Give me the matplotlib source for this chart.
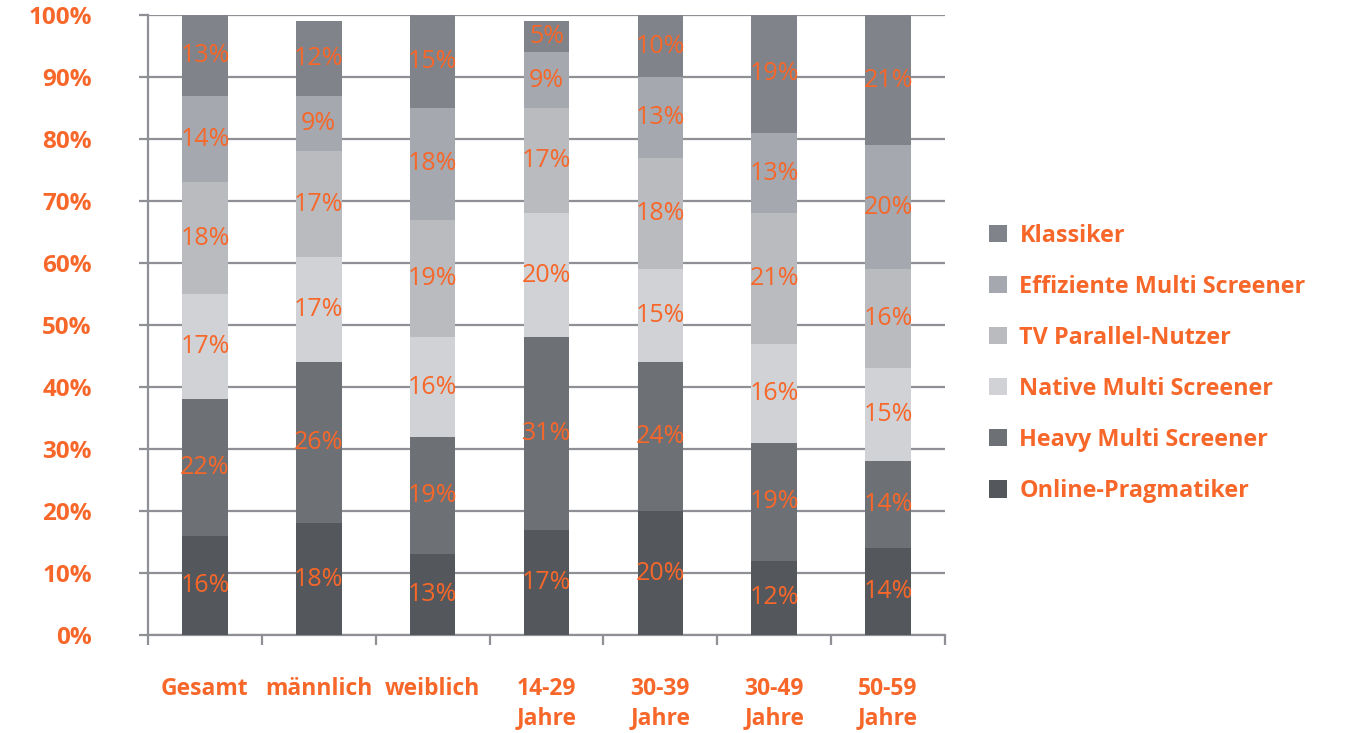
import matplotlib
matplotlib.use("Agg")
import matplotlib.pyplot as plt
import numpy as np

categories = ["Gesamt", "männlich", "weiblich", "14-29\nJahre", "30-39\nJahre", "30-49\nJahre", "50-59\nJahre"]
series_names = ["Online-Pragmatiker", "Heavy Multi Screener", "Native Multi Screener",
                "TV Parallel-Nutzer", "Effiziente Multi Screener", "Klassiker"]
online = [16, 18, 13, 17, 20, 12, 14]
heavy = [22, 26, 19, 31, 24, 19, 14]
native = [17, 17, 16, 20, 15, 16, 15]
tv_parallel = [18, 17, 19, 17, 18, 21, 16]
effizient = [14, 9, 18, 9, 13, 13, 20]
klassiker = [13, 12, 15, 5, 10, 19, 21]
yticks = [0, 10, 20, 30, 40, 50, 60, 70, 80, 90, 100]

series = [online, heavy, native, tv_parallel, effizient, klassiker]
colors = ["#54575c", "#6d7075", "#d0d2d5", "#b9bbbf", "#a5a8ae", "#808389"]
orange = "#f7672a"
grid_gray = "#8e9095"
font = "Open Sans"

fig = plt.figure(figsize=(13.49, 7.33), dpi=100)
ax = fig.add_axes([0.1097, 0.1337, 0.5908, 0.8458])

x = np.arange(len(categories))
bottom = np.zeros(len(categories))
handles = []
for name, vals, col in zip(series_names, series, colors):
    vals = np.array(vals, dtype=float)
    bars = ax.bar(x, vals, width=0.4, bottom=bottom, color=col, label=name, zorder=3)
    handles.append(bars)
    for xi, b, v in zip(x, bottom, vals):
        ax.text(xi, b + v / 2, f"{int(v)}%", ha="center", va="center",
                color=orange, fontsize=18, family=font, fontweight="medium", zorder=4)
    bottom += vals

ax.set_xlim(-0.5, len(categories) - 0.5)
ax.set_ylim(0, 100)

# y axis: percentage ticks with grid lines
ax.set_yticks(yticks)
ax.set_yticklabels([f"{t}%" for t in yticks])
ax.yaxis.grid(True, color=grid_gray, linewidth=1.6, zorder=0)
ax.set_axisbelow(True)
ax.tick_params(axis="y", length=6.5, width=1.6, color=grid_gray, pad=34,
               labelcolor=orange, labelsize=17.5)
for lbl in ax.get_yticklabels():
    lbl.set_fontfamily(font)
    lbl.set_fontweight("bold")

# x axis: tick marks between groups, labels under the bars
ax.set_xticks(np.arange(len(categories) + 1) - 0.5)
ax.set_xticklabels([])
ax.set_xticks(x, minor=True)
ax.set_xticklabels(categories, minor=True)
ax.tick_params(axis="x", which="major", length=7.5, width=1.6, color=grid_gray, direction="out")
ax.tick_params(axis="x", which="minor", length=0, pad=30, labelcolor=orange, labelsize=16.5)
for lbl in ax.get_xticklabels(minor=True):
    lbl.set_fontfamily(font)
    lbl.set_fontweight("bold")
    lbl.set_linespacing(1.3)
    lbl.set_va("top")

for side in ["top", "right"]:
    ax.spines[side].set_visible(False)
for side in ["left", "bottom"]:
    ax.spines[side].set_color(grid_gray)
    ax.spines[side].set_linewidth(1.6)

leg = ax.legend(handles[::-1], series_names[::-1], loc="center left",
                bbox_to_anchor=(1.029, 0.438), frameon=False, handlelength=0.75,
                handleheight=0.75, handletextpad=0.55, labelspacing=1.16,
                prop={"family": font, "weight": "bold", "size": 16.8})
for t in leg.get_texts():
    t.set_color(orange)

fig.savefig("out.png", dpi=100, facecolor="white")
